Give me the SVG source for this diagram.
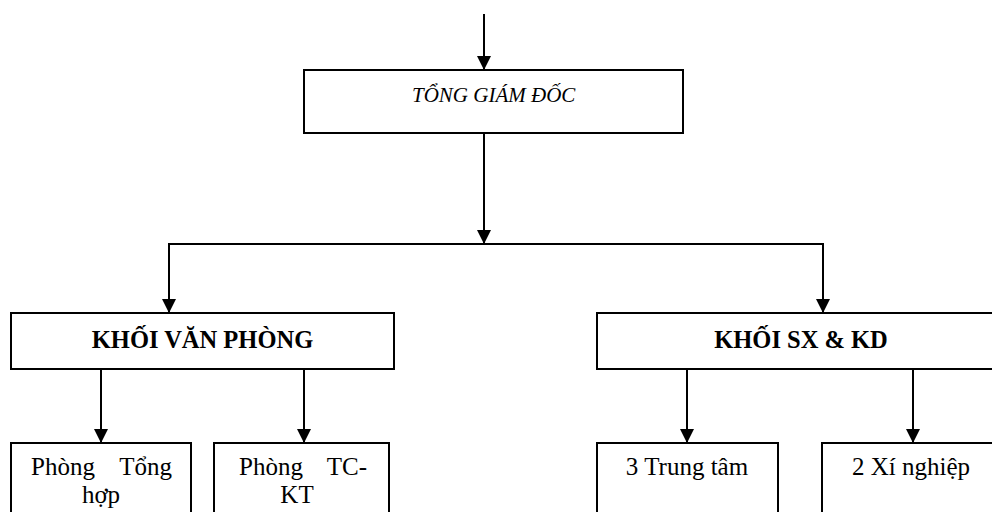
<svg xmlns="http://www.w3.org/2000/svg" width="992" height="512" viewBox="0 0 992 512">
<style>
.box{fill:#fff;stroke:#000;stroke-width:2}
.t{font-family:"Liberation Serif","Times New Roman",serif;font-size:25px;fill:#000}
.b{font-weight:bold;font-size:24.5px}
.i{font-style:italic;font-size:21px}
.c{text-anchor:middle}
.e{text-anchor:end}
.ln{fill:none;stroke:#000;stroke-width:2}
</style>
<defs>
<marker id="ah" markerUnits="userSpaceOnUse" markerWidth="14" markerHeight="14" refX="14" refY="7" orient="auto">
<path d="M0,0 L14,7 L0,14 z" fill="#000"/>
</marker>
</defs>
<g id="connectors">
<line class="ln" x1="484" y1="14" x2="484" y2="70" marker-end="url(#ah)"/>
<line class="ln" x1="484" y1="133" x2="484" y2="244" marker-end="url(#ah)"/>
<polyline class="ln" points="169,313 169,244 823,244 823,313"/>
<line class="ln" x1="169" y1="250" x2="169" y2="313" marker-end="url(#ah)"/>
<line class="ln" x1="823" y1="250" x2="823" y2="313" marker-end="url(#ah)"/>
<line class="ln" x1="101" y1="369" x2="101" y2="443" marker-end="url(#ah)"/>
<line class="ln" x1="304" y1="369" x2="304" y2="443" marker-end="url(#ah)"/>
<line class="ln" x1="687" y1="369" x2="687" y2="443" marker-end="url(#ah)"/>
<line class="ln" x1="913" y1="369" x2="913" y2="443" marker-end="url(#ah)"/>
</g>
<g id="tgd">
<rect class="box" x="304" y="70" width="379" height="63"/>
<text class="t i" x="412" y="102">TỔNG GIÁM ĐỐC</text>
</g>
<g id="khoi-vp">
<rect class="box" x="11" y="313" width="383" height="56"/>
<text class="t b c" x="202.5" y="348">KHỐI VĂN PHÒNG</text>
</g>
<g id="khoi-sxkd">
<rect class="box" x="597" y="313" width="410" height="56"/>
<text class="t b c" x="801" y="348">KHỐI SX &amp; KD</text>
</g>
<g id="phong-th">
<rect class="box" x="11" y="443" width="180" height="80"/>
<text class="t" x="31" y="475">Phòng</text>
<text class="t e" x="172" y="475">Tổng</text>
<text class="t c" x="101" y="503">hợp</text>
</g>
<g id="phong-tckt">
<rect class="box" x="214" y="443" width="175" height="80"/>
<text class="t" x="239" y="475">Phòng</text>
<text class="t e" x="367" y="475">TC-</text>
<text class="t c" x="297" y="503">KT</text>
</g>
<g id="trung-tam">
<rect class="box" x="597" y="443" width="181" height="80"/>
<text class="t c" x="687" y="475">3 Trung tâm</text>
</g>
<g id="xi-nghiep">
<rect class="box" x="822" y="443" width="180" height="80"/>
<text class="t c" x="911" y="475">2 Xí nghiệp</text>
</g>
</svg>
